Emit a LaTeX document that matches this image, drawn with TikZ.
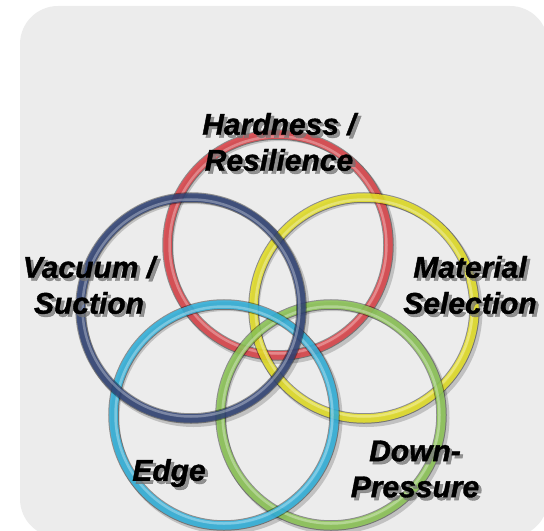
\documentclass[tikz,border=0pt]{standalone}
\usepackage{fontspec}
\setmainfont{Liberation Sans}
\newfontfamily\tagfont[FakeBold=1.2]{Liberation Sans}
\usepackage{tikz}
\definecolor{panel}{RGB}{236,236,236}
\definecolor{ringred}{RGB}{236,72,78}
\definecolor{ringyellow}{RGB}{246,240,40}
\definecolor{ringgreen}{RGB}{150,212,92}
\definecolor{ringcyan}{RGB}{52,190,236}
\definecolor{ringnavy}{RGB}{50,70,124}
\tikzstyle{ring}=[circle, inner sep=0pt, minimum size=221bp, line width=8.5bp, draw opacity=.8]
\tikzstyle{ringedge}=[circle, inner sep=0pt, minimum size=221bp, line width=10.5bp, draw=black, draw opacity=.4]
\tikzstyle{ringshade}=[circle, inner sep=0pt, minimum size=223bp, line width=9bp, draw=black, draw opacity=.18]
\tikzstyle{ringshine}=[circle, inner sep=0pt, minimum size=217bp, line width=2.5bp, draw=white, draw opacity=.3]
\tikzstyle{labeltext}=[align=center, inner sep=0pt, font=\fontsize{30bp}{36bp}\selectfont\tagfont\bfseries\itshape]
\tikzstyle{labelshade}=[labeltext, text=black!55, text opacity=.75]
\newcommand{\ringlabel}[4]{%
  \node[labelshade] (#1s) at (#2+3,#3+3) {#4};
  \node[labeltext] (#1) at (#2,#3) {#4};}

\begin{document}
\begin{tikzpicture}[x=1bp, y=-1bp]
            \useasboundingbox (0,0) rectangle (544,531);
            \clip (0,0) rectangle (544,531);
            \fill[panel, rounded corners=38bp] (20,6) rectangle (548,537);

            % rings, shadow first
            \foreach \nm/\x/\y/\col in {hard/278/245/ringred, mat/364/308/ringyellow,
                                        down/331/415/ringgreen, edge/224/415/ringcyan,
                                        vac/191/308/ringnavy}{
              \node[ringshade] (\nm s) at (\x+2.5,\y+3) {};
            }
            \foreach \nm/\x/\y/\col in {hard/278/245/ringred, mat/364/308/ringyellow,
                                        down/331/415/ringgreen, edge/224/415/ringcyan,
                                        vac/191/308/ringnavy}{
              \node[ringedge] (\nm e) at (\x,\y) {};
              \node[ring, draw=\col] (\nm) at (\x,\y) {};
              \node[ringshine] (\nm h) at (\x,\y) {};
            }

            \ringlabel{hardtxt}{279}{142}{Hardness /\\Resilience}
            \ringlabel{vactxt}{89}{285}{Vacuum /\\Suction}
            \ringlabel{mattxt}{470}{285}{Material\\Selection}
            \ringlabel{edgetxt}{169}{473}{Edge}
            \ringlabel{downtxt}{415}{469}{Down-\\Pressure}
        \end{tikzpicture}
\end{document}
